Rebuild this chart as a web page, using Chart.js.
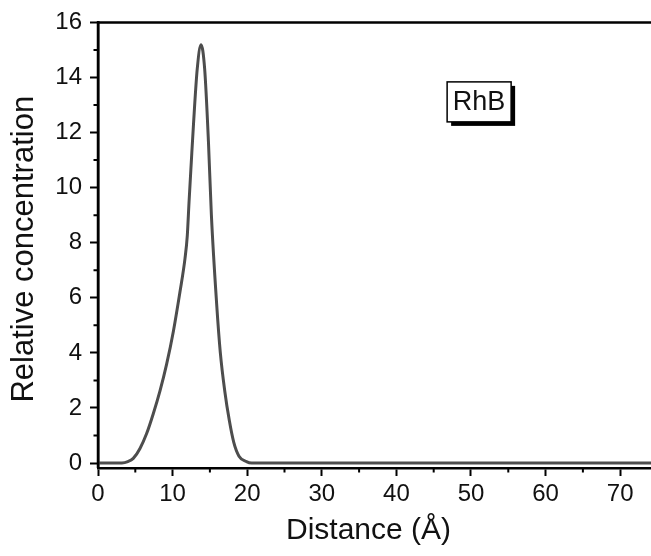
<!DOCTYPE html>
<html>
<head>
<meta charset="utf-8">
<script src="https://cdn.jsdelivr.net/npm/chart.js@4"></script>
<style>
  html, body { margin: 0; padding: 0; background: #fff; }
  #wrap { width: 651px; height: 556px; }
</style>
</head>
<body>
<div id="wrap"><canvas id="chart"></canvas></div>
<script>
const distance = [0, 3.2, 4.0, 4.73, 5.63, 6.52, 7.41, 8.31, 9.2, 10.1, 10.99, 11.66, 11.97, 12.2, 12.5, 12.8, 13.3, 13.81, 14.3, 14.8, 15.2, 15.9, 16.4, 17.0, 17.6, 18.2, 18.9, 19.9, 20.6, 75];
const concentration = [0, 0, 0.05, 0.17, 0.53, 1.07, 1.79, 2.62, 3.59, 4.78, 6.22, 7.42, 8.26, 9.46, 10.9, 12.3, 14.3, 15.19, 14.3, 11.7, 9.0, 5.8, 4.0, 2.6, 1.55, 0.75, 0.25, 0.05, 0, 0];
const xTicks = [0, 10, 20, 30, 40, 50, 60, 70];
const xMinorTicks = [5, 15, 25, 35, 45, 55, 65];
const yTicks = [0, 2, 4, 6, 8, 10, 12, 14, 16];
const yMinorTicks = [1, 3, 5, 7, 9, 11, 13, 15];
const xTitle = 'Distance (Å)';
const yTitle = 'Relative concentration';
const labelText = 'RhB';
const labelAt = { x: 46.8, y: 13.84 };

const font = '"Liberation Sans", Arial, sans-serif';

// frame, minor ticks, axis titles and the RhB box
const decorations = {
  id: 'decorations',
  afterDraw(chart) {
    const { ctx, chartArea: a, scales: { x, y } } = chart;
    ctx.save();
    ctx.strokeStyle = '#000';
    ctx.lineWidth = 2.5;
    ctx.beginPath();
    ctx.moveTo(a.left, a.bottom);
    ctx.lineTo(a.left, a.top);
    ctx.lineTo(a.right + 2, a.top);
    ctx.stroke();
    ctx.lineWidth = 2;
    ctx.beginPath();
    xMinorTicks.forEach((v) => {
      const px = x.getPixelForValue(v);
      ctx.moveTo(px, a.bottom);
      ctx.lineTo(px, a.bottom + 4.5);
    });
    yMinorTicks.forEach((v) => {
      const py = y.getPixelForValue(v);
      ctx.moveTo(a.left, py);
      ctx.lineTo(a.left - 4.5, py);
    });
    ctx.stroke();

    ctx.fillStyle = '#111';
    ctx.textAlign = 'center';
    ctx.textBaseline = 'middle';
    ctx.font = '30px ' + font;
    ctx.fillText(xTitle, (a.left + a.right) / 2 - 6, a.bottom + 63);
    ctx.save();
    ctx.translate(a.left - 74, (a.top + a.bottom) / 2 + 4);
    ctx.rotate(-Math.PI / 2);
    ctx.font = '31px ' + font;
    ctx.fillText(yTitle, 0, 0);
    ctx.restore();

    const bx = x.getPixelForValue(labelAt.x);
    const by = y.getPixelForValue(labelAt.y);
    const bw = 64, bh = 40;
    ctx.fillStyle = '#000';
    ctx.fillRect(bx + 4, by + 4, bw, bh);
    ctx.fillStyle = '#fff';
    ctx.fillRect(bx, by, bw, bh);
    ctx.lineWidth = 1.5;
    ctx.strokeRect(bx, by, bw, bh);
    ctx.fillStyle = '#111';
    ctx.font = '27px ' + font;
    ctx.fillText(labelText, bx + bw / 2, by + bh / 2 + 1);
    ctx.restore();
  }
};

new Chart(document.getElementById('chart'), {
  type: 'line',
  data: {
    datasets: [{
      data: distance.map((d, i) => ({ x: d, y: concentration[i] })),
      borderColor: '#4d4d4d',
      borderWidth: 3,
      pointRadius: 0,
      cubicInterpolationMode: 'monotone',
      fill: false
    }]
  },
  options: {
    responsive: true,
    maintainAspectRatio: false,
    animation: false,
    layout: { padding: { top: 18, left: 0, right: 0, bottom: 0 } },
    plugins: { legend: { display: false }, tooltip: { enabled: false } },
    scales: {
      x: {
        type: 'linear',
        min: 0,
        max: 74.13,
        afterBuildTicks: (s) => { s.ticks = xTicks.map((v) => ({ value: v })); },
        afterFit: (s) => { s.height = 88; },
        ticks: { color: '#111', font: { family: font, size: 24 }, padding: 4, maxRotation: 0 },
        grid: { display: true, drawOnChartArea: false, tickLength: 8, tickWidth: 2, tickColor: '#000' },
        border: { display: true, color: '#000', width: 2.5 }
      },
      y: {
        min: -0.18,
        max: 16,
        afterBuildTicks: (s) => { s.ticks = yTicks.map((v) => ({ value: v })); },
        afterFit: (s) => { s.width = 98; },
        ticks: { color: '#111', font: { family: font, size: 24 }, padding: 8 },
        grid: { display: true, drawOnChartArea: false, tickLength: 8, tickWidth: 2, tickColor: '#000' },
        border: { display: true, color: '#000', width: 2.5 }
      }
    }
  },
  plugins: [decorations]
});
</script>
</body>
</html>
